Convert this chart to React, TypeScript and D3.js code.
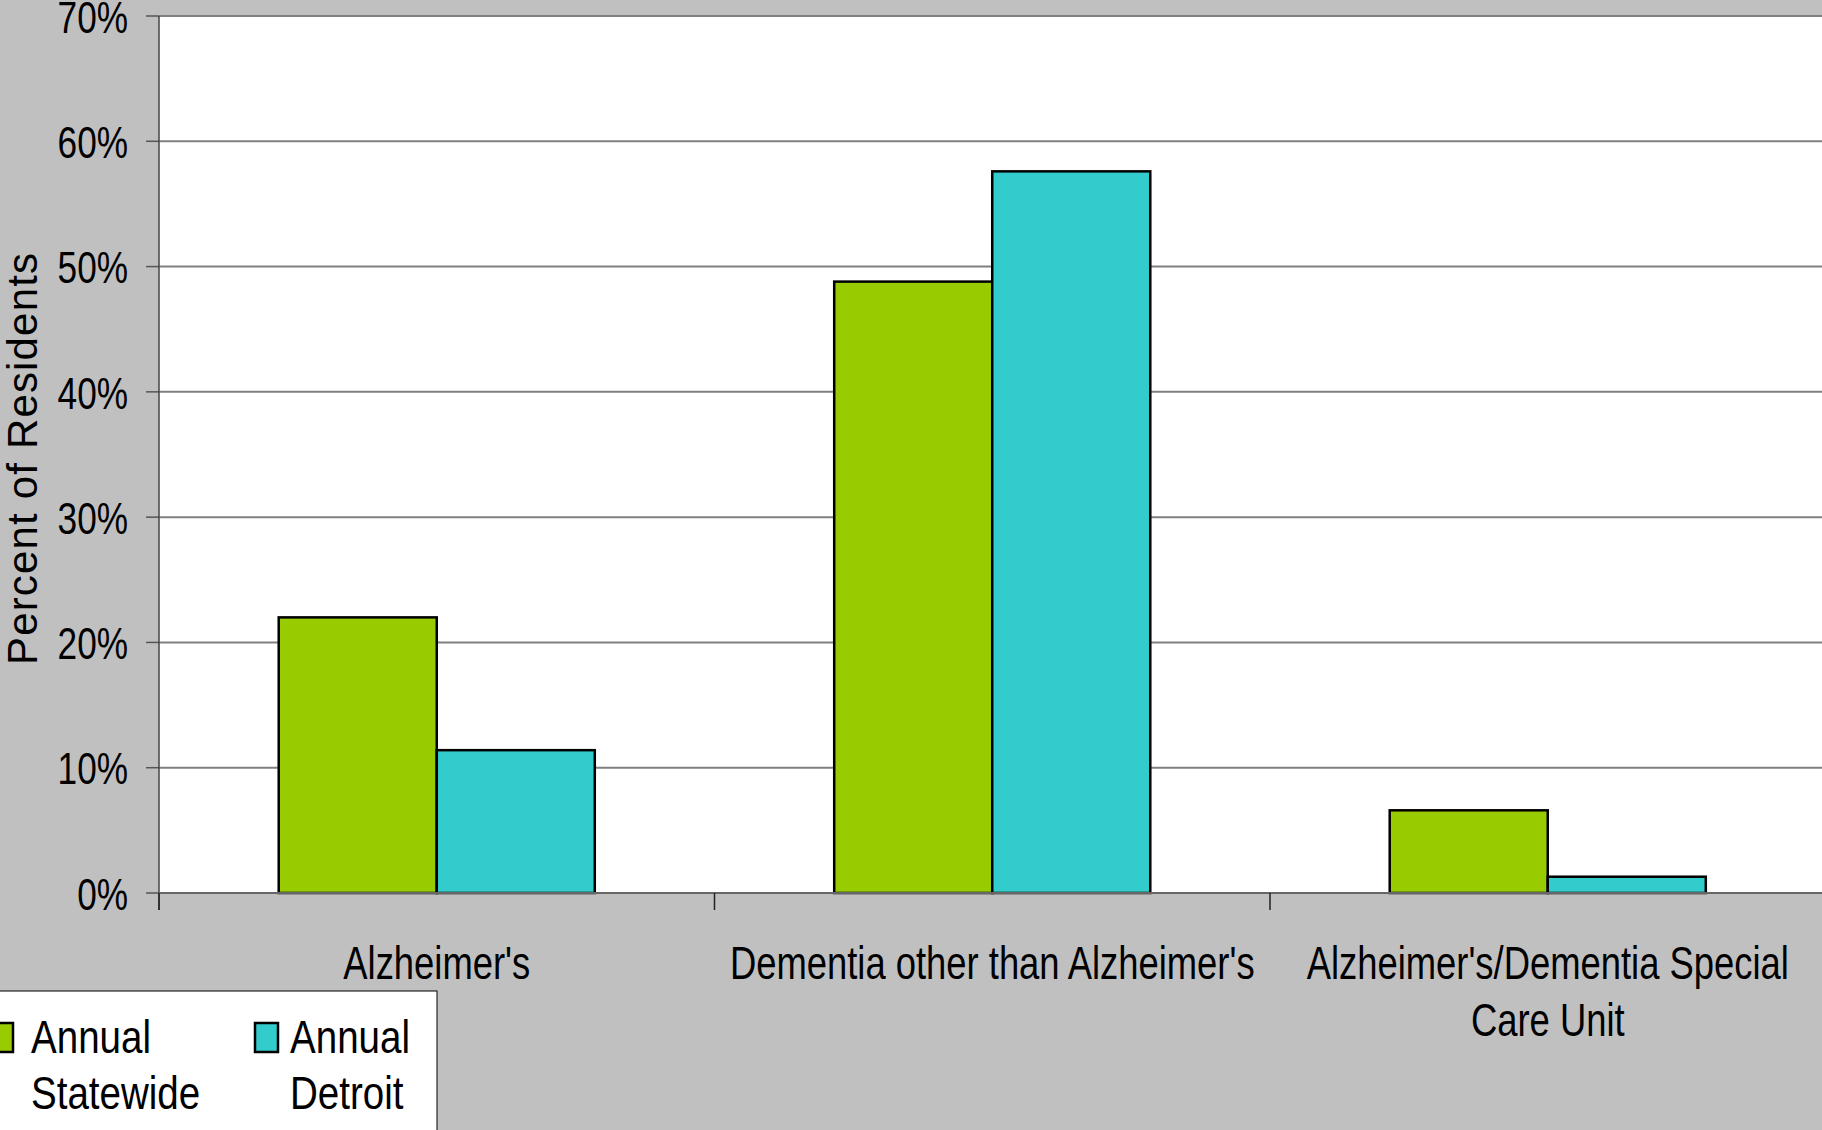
import React from "react";
import * as d3 from "d3";

const categories: string[][] = [
  ["Alzheimer's"],
  ["Dementia other than Alzheimer's"],
  ["Alzheimer's/Dementia Special", "Care Unit"],
];
const seriesNames = ["Annual Statewide", "Annual Detroit"];
const statewide = [0.22, 0.488, 0.066];
const detroit = [0.114, 0.576, 0.013];
const yTicks = [0, 0.1, 0.2, 0.3, 0.4, 0.5, 0.6, 0.7];
const colors = ["#99CC00", "#33CCCC"];

const W = 1822;
const H = 1130;
const FONT = "Arial, 'Liberation Sans', sans-serif";
const SX = 0.8;

export default function App() {
  const left = 159;
  const right = 1825.5;
  const top = 16;
  const bottom = 893;
  const catKeys = categories.map((c) => c.join(" "));
  const x = d3.scaleBand<string>().domain(catKeys).range([left, right]).padding(0);
  const y = d3.scaleLinear().domain([0, 0.7]).range([bottom, top]);
  const groupW = x.bandwidth() * 0.569;
  const xs = d3.scaleBand<string>().domain(seriesNames).range([0, groupW]).padding(0);
  const values = [statewide, detroit];

  return (
    <svg
      width={W}
      height={H}
      style={{ position: "absolute", left: 0, top: 0, display: "block" }}
      fontFamily={FONT}
    >
      <rect x={0} y={0} width={W} height={H} fill="#C0C0C0" />
      <rect x={left} y={top} width={right - left} height={bottom - top} fill="#FFFFFF" />
      {yTicks.map((t) => (
        <g key={t}>
          <line x1={left} x2={right} y1={y(t)} y2={y(t)} stroke="#808080" strokeWidth={2} />
          <line x1={146} x2={left} y1={y(t)} y2={y(t)} stroke="#555" strokeWidth={1.5} />
          <g transform={`translate(128,${y(t)}) scale(${SX},1)`}>
            <text textAnchor="end" dy="0.38em" fontSize={44} fill="#000">
              {d3.format(".0%")(t)}
            </text>
          </g>
        </g>
      ))}
      {catKeys.map((k, i) => {
        const x0 = (x(k) as number) + (x.bandwidth() - groupW) / 2;
        return (
          <g key={k}>
            {values.map((vals, s) => (
              <rect
                key={s}
                x={x0 + (xs(seriesNames[s]) as number)}
                y={y(vals[i])}
                width={xs.bandwidth()}
                height={bottom - y(vals[i])}
                fill={colors[s]}
                stroke="#000"
                strokeWidth={2.5}
              />
            ))}
          </g>
        );
      })}
      <line x1={left} x2={left} y1={top} y2={bottom + 17} stroke="#444" strokeWidth={1.5} />
      <line x1={left} x2={right} y1={bottom} y2={bottom} stroke="#666" strokeWidth={2} />
      {catKeys.map((k) => (
        <line key={"t" + k} x1={x(k) as number} x2={x(k) as number} y1={bottom} y2={bottom + 17} stroke="#222" strokeWidth={1.5} />
      ))}
      {categories.map((lines, i) => {
        const cx = (x(catKeys[i]) as number) + x.bandwidth() / 2;
        return (
          <g key={"l" + i} transform={`translate(${cx},0) scale(${SX},1)`}>
            {lines.map((ln, j) => (
              <text key={j} x={0} y={979 + j * 57} textAnchor="middle" fontSize={45.5} fill="#000">
                {ln}
              </text>
            ))}
          </g>
        );
      })}
      <text
        transform={`translate(37,${(253 + 665) / 2}) rotate(-90)`}
        textAnchor="middle"
        fontSize={42}
        textLength={412}
        lengthAdjust="spacing"
        fill="#000"
      >
        Percent of Residents
      </text>
      <rect x={-1} y={991} width={438} height={160} fill="#FFFFFF" stroke="#000" strokeWidth={1} />
      {seriesNames.map((name, s) => {
        const lx = s === 0 ? -10 : 255;
        const tx = s === 0 ? 31 : 290;
        const words = name.split(" ");
        return (
          <g key={name}>
            <rect x={lx} y={1023} width={23} height={29} fill={colors[s]} stroke="#000" strokeWidth={2.5} />
            <g transform={`translate(${tx},0) scale(0.82,1)`}>
              {words.map((w, j) => (
                <text key={j} x={0} y={1053 + j * 56} fontSize={47} fill="#000">
                  {w}
                </text>
              ))}
            </g>
          </g>
        );
      })}
    </svg>
  );
}
